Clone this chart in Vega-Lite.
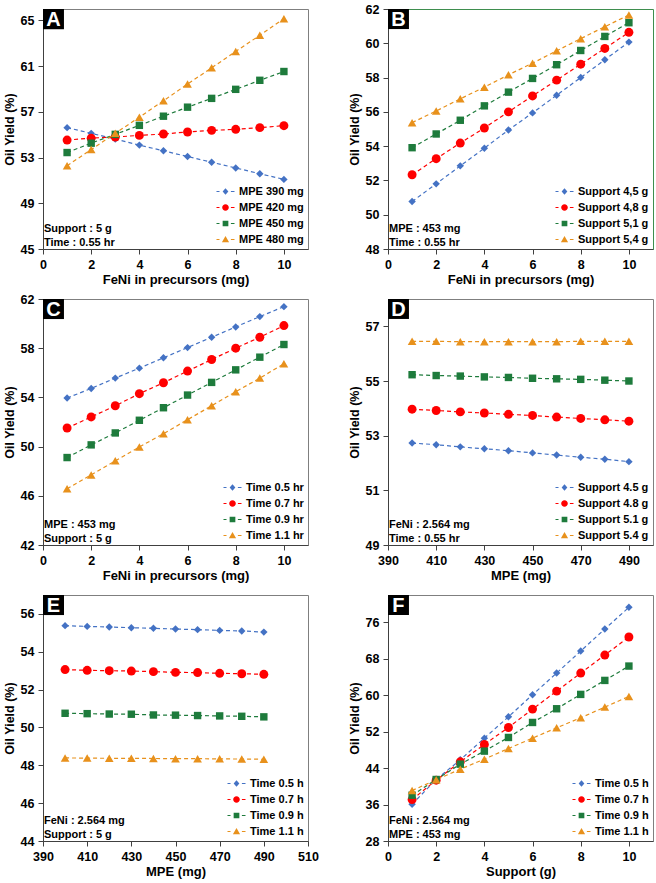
{
"$schema": "https://vega.github.io/schema/vega-lite/v6.json",
"padding": {"left": 2, "top": 2, "right": 2, "bottom": 1},
"datasets": {
"A": [
{"x":1,"y":55.62,"s":"MPE 390 mg"},{"x":2,"y":55.12,"s":"MPE 390 mg"},{"x":3,"y":54.62,"s":"MPE 390 mg"},{"x":4,"y":54.09,"s":"MPE 390 mg"},{"x":5,"y":53.59,"s":"MPE 390 mg"},{"x":6,"y":53.09,"s":"MPE 390 mg"},{"x":7,"y":52.59,"s":"MPE 390 mg"},{"x":8,"y":52.09,"s":"MPE 390 mg"},{"x":9,"y":51.59,"s":"MPE 390 mg"},{"x":10,"y":51.09,"s":"MPE 390 mg"},
{"x":1,"y":54.53,"s":"MPE 420 mg"},{"x":2,"y":54.70,"s":"MPE 420 mg"},{"x":3,"y":54.80,"s":"MPE 420 mg"},{"x":4,"y":54.94,"s":"MPE 420 mg"},{"x":5,"y":55.06,"s":"MPE 420 mg"},{"x":6,"y":55.24,"s":"MPE 420 mg"},{"x":7,"y":55.38,"s":"MPE 420 mg"},{"x":8,"y":55.47,"s":"MPE 420 mg"},{"x":9,"y":55.62,"s":"MPE 420 mg"},{"x":10,"y":55.79,"s":"MPE 420 mg"},
{"x":1,"y":53.44,"s":"MPE 450 mg"},{"x":2,"y":54.26,"s":"MPE 450 mg"},{"x":3,"y":55.03,"s":"MPE 450 mg"},{"x":4,"y":55.82,"s":"MPE 450 mg"},{"x":5,"y":56.62,"s":"MPE 450 mg"},{"x":6,"y":57.41,"s":"MPE 450 mg"},{"x":7,"y":58.18,"s":"MPE 450 mg"},{"x":8,"y":58.97,"s":"MPE 450 mg"},{"x":9,"y":59.76,"s":"MPE 450 mg"},{"x":10,"y":60.53,"s":"MPE 450 mg"},
{"x":1,"y":52.29,"s":"MPE 480 mg"},{"x":2,"y":53.70,"s":"MPE 480 mg"},{"x":3,"y":55.12,"s":"MPE 480 mg"},{"x":4,"y":56.53,"s":"MPE 480 mg"},{"x":5,"y":57.97,"s":"MPE 480 mg"},{"x":6,"y":59.44,"s":"MPE 480 mg"},{"x":7,"y":60.85,"s":"MPE 480 mg"},{"x":8,"y":62.29,"s":"MPE 480 mg"},{"x":9,"y":63.70,"s":"MPE 480 mg"},{"x":10,"y":65.15,"s":"MPE 480 mg"}
],
"B": [
{"x":1,"y":50.77,"s":"Support 4,5 g"},{"x":2,"y":51.80,"s":"Support 4,5 g"},{"x":3,"y":52.85,"s":"Support 4,5 g"},{"x":4,"y":53.88,"s":"Support 4,5 g"},{"x":5,"y":54.94,"s":"Support 4,5 g"},{"x":6,"y":55.94,"s":"Support 4,5 g"},{"x":7,"y":56.97,"s":"Support 4,5 g"},{"x":8,"y":58.00,"s":"Support 4,5 g"},{"x":9,"y":59.04,"s":"Support 4,5 g"},{"x":10,"y":60.07,"s":"Support 4,5 g"},
{"x":1,"y":52.33,"s":"Support 4,8 g"},{"x":2,"y":53.27,"s":"Support 4,8 g"},{"x":3,"y":54.18,"s":"Support 4,8 g"},{"x":4,"y":55.06,"s":"Support 4,8 g"},{"x":5,"y":56.00,"s":"Support 4,8 g"},{"x":6,"y":56.93,"s":"Support 4,8 g"},{"x":7,"y":57.85,"s":"Support 4,8 g"},{"x":8,"y":58.78,"s":"Support 4,8 g"},{"x":9,"y":59.70,"s":"Support 4,8 g"},{"x":10,"y":60.64,"s":"Support 4,8 g"},
{"x":1,"y":53.91,"s":"Support 5,1 g"},{"x":2,"y":54.71,"s":"Support 5,1 g"},{"x":3,"y":55.51,"s":"Support 5,1 g"},{"x":4,"y":56.35,"s":"Support 5,1 g"},{"x":5,"y":57.15,"s":"Support 5,1 g"},{"x":6,"y":57.95,"s":"Support 5,1 g"},{"x":7,"y":58.75,"s":"Support 5,1 g"},{"x":8,"y":59.58,"s":"Support 5,1 g"},{"x":9,"y":60.40,"s":"Support 5,1 g"},{"x":10,"y":61.20,"s":"Support 5,1 g"},
{"x":1,"y":55.37,"s":"Support 5,4 g"},{"x":2,"y":56.05,"s":"Support 5,4 g"},{"x":3,"y":56.76,"s":"Support 5,4 g"},{"x":4,"y":57.44,"s":"Support 5,4 g"},{"x":5,"y":58.16,"s":"Support 5,4 g"},{"x":6,"y":58.84,"s":"Support 5,4 g"},{"x":7,"y":59.56,"s":"Support 5,4 g"},{"x":8,"y":60.27,"s":"Support 5,4 g"},{"x":9,"y":60.97,"s":"Support 5,4 g"},{"x":10,"y":61.65,"s":"Support 5,4 g"}
],
"C": [
{"x":1,"y":53.95,"s":"Time 0.5 hr"},{"x":2,"y":54.73,"s":"Time 0.5 hr"},{"x":3,"y":55.57,"s":"Time 0.5 hr"},{"x":4,"y":56.38,"s":"Time 0.5 hr"},{"x":5,"y":57.22,"s":"Time 0.5 hr"},{"x":6,"y":58.05,"s":"Time 0.5 hr"},{"x":7,"y":58.89,"s":"Time 0.5 hr"},{"x":8,"y":59.73,"s":"Time 0.5 hr"},{"x":9,"y":60.57,"s":"Time 0.5 hr"},{"x":10,"y":61.38,"s":"Time 0.5 hr"},
{"x":1,"y":51.51,"s":"Time 0.7 hr"},{"x":2,"y":52.41,"s":"Time 0.7 hr"},{"x":3,"y":53.32,"s":"Time 0.7 hr"},{"x":4,"y":54.30,"s":"Time 0.7 hr"},{"x":5,"y":55.19,"s":"Time 0.7 hr"},{"x":6,"y":56.14,"s":"Time 0.7 hr"},{"x":7,"y":57.08,"s":"Time 0.7 hr"},{"x":8,"y":58.00,"s":"Time 0.7 hr"},{"x":9,"y":58.89,"s":"Time 0.7 hr"},{"x":10,"y":59.84,"s":"Time 0.7 hr"},
{"x":1,"y":49.11,"s":"Time 0.9 hr"},{"x":2,"y":50.14,"s":"Time 0.9 hr"},{"x":3,"y":51.11,"s":"Time 0.9 hr"},{"x":4,"y":52.14,"s":"Time 0.9 hr"},{"x":5,"y":53.16,"s":"Time 0.9 hr"},{"x":6,"y":54.19,"s":"Time 0.9 hr"},{"x":7,"y":55.22,"s":"Time 0.9 hr"},{"x":8,"y":56.24,"s":"Time 0.9 hr"},{"x":9,"y":57.27,"s":"Time 0.9 hr"},{"x":10,"y":58.30,"s":"Time 0.9 hr"},
{"x":1,"y":46.57,"s":"Time 1.1 hr"},{"x":2,"y":47.70,"s":"Time 1.1 hr"},{"x":3,"y":48.84,"s":"Time 1.1 hr"},{"x":4,"y":49.97,"s":"Time 1.1 hr"},{"x":5,"y":51.05,"s":"Time 1.1 hr"},{"x":6,"y":52.19,"s":"Time 1.1 hr"},{"x":7,"y":53.32,"s":"Time 1.1 hr"},{"x":8,"y":54.46,"s":"Time 1.1 hr"},{"x":9,"y":55.57,"s":"Time 1.1 hr"},{"x":10,"y":56.73,"s":"Time 1.1 hr"}
],
"D": [
{"x":400,"y":52.73,"s":"Support 4.5 g"},{"x":410,"y":52.67,"s":"Support 4.5 g"},{"x":420,"y":52.59,"s":"Support 4.5 g"},{"x":430,"y":52.52,"s":"Support 4.5 g"},{"x":440,"y":52.45,"s":"Support 4.5 g"},{"x":450,"y":52.37,"s":"Support 4.5 g"},{"x":460,"y":52.29,"s":"Support 4.5 g"},{"x":470,"y":52.21,"s":"Support 4.5 g"},{"x":480,"y":52.14,"s":"Support 4.5 g"},{"x":490,"y":52.05,"s":"Support 4.5 g"},
{"x":400,"y":53.97,"s":"Support 4.8 g"},{"x":410,"y":53.92,"s":"Support 4.8 g"},{"x":420,"y":53.87,"s":"Support 4.8 g"},{"x":430,"y":53.83,"s":"Support 4.8 g"},{"x":440,"y":53.78,"s":"Support 4.8 g"},{"x":450,"y":53.74,"s":"Support 4.8 g"},{"x":460,"y":53.68,"s":"Support 4.8 g"},{"x":470,"y":53.63,"s":"Support 4.8 g"},{"x":480,"y":53.58,"s":"Support 4.8 g"},{"x":490,"y":53.53,"s":"Support 4.8 g"},
{"x":400,"y":55.23,"s":"Support 5.1 g"},{"x":410,"y":55.20,"s":"Support 5.1 g"},{"x":420,"y":55.18,"s":"Support 5.1 g"},{"x":430,"y":55.15,"s":"Support 5.1 g"},{"x":440,"y":55.13,"s":"Support 5.1 g"},{"x":450,"y":55.10,"s":"Support 5.1 g"},{"x":460,"y":55.08,"s":"Support 5.1 g"},{"x":470,"y":55.06,"s":"Support 5.1 g"},{"x":480,"y":55.03,"s":"Support 5.1 g"},{"x":490,"y":55.00,"s":"Support 5.1 g"},
{"x":400,"y":56.45,"s":"Support 5.4 g"},{"x":410,"y":56.45,"s":"Support 5.4 g"},{"x":420,"y":56.44,"s":"Support 5.4 g"},{"x":430,"y":56.44,"s":"Support 5.4 g"},{"x":440,"y":56.44,"s":"Support 5.4 g"},{"x":450,"y":56.44,"s":"Support 5.4 g"},{"x":460,"y":56.44,"s":"Support 5.4 g"},{"x":470,"y":56.45,"s":"Support 5.4 g"},{"x":480,"y":56.45,"s":"Support 5.4 g"},{"x":490,"y":56.45,"s":"Support 5.4 g"}
],
"E": [
{"x":400,"y":55.38,"s":"Time 0.5 h"},{"x":410,"y":55.34,"s":"Time 0.5 h"},{"x":420,"y":55.31,"s":"Time 0.5 h"},{"x":430,"y":55.27,"s":"Time 0.5 h"},{"x":440,"y":55.24,"s":"Time 0.5 h"},{"x":450,"y":55.20,"s":"Time 0.5 h"},{"x":460,"y":55.17,"s":"Time 0.5 h"},{"x":470,"y":55.13,"s":"Time 0.5 h"},{"x":480,"y":55.10,"s":"Time 0.5 h"},{"x":490,"y":55.04,"s":"Time 0.5 h"},
{"x":400,"y":53.06,"s":"Time 0.7 h"},{"x":410,"y":53.02,"s":"Time 0.7 h"},{"x":420,"y":53.00,"s":"Time 0.7 h"},{"x":430,"y":52.98,"s":"Time 0.7 h"},{"x":440,"y":52.95,"s":"Time 0.7 h"},{"x":450,"y":52.91,"s":"Time 0.7 h"},{"x":460,"y":52.90,"s":"Time 0.7 h"},{"x":470,"y":52.86,"s":"Time 0.7 h"},{"x":480,"y":52.84,"s":"Time 0.7 h"},{"x":490,"y":52.81,"s":"Time 0.7 h"},
{"x":400,"y":50.75,"s":"Time 0.9 h"},{"x":410,"y":50.73,"s":"Time 0.9 h"},{"x":420,"y":50.71,"s":"Time 0.9 h"},{"x":430,"y":50.70,"s":"Time 0.9 h"},{"x":440,"y":50.66,"s":"Time 0.9 h"},{"x":450,"y":50.65,"s":"Time 0.9 h"},{"x":460,"y":50.63,"s":"Time 0.9 h"},{"x":470,"y":50.61,"s":"Time 0.9 h"},{"x":480,"y":50.59,"s":"Time 0.9 h"},{"x":490,"y":50.56,"s":"Time 0.9 h"},
{"x":400,"y":48.39,"s":"Time 1.1 h"},{"x":410,"y":48.38,"s":"Time 1.1 h"},{"x":420,"y":48.37,"s":"Time 1.1 h"},{"x":430,"y":48.37,"s":"Time 1.1 h"},{"x":440,"y":48.36,"s":"Time 1.1 h"},{"x":450,"y":48.35,"s":"Time 1.1 h"},{"x":460,"y":48.35,"s":"Time 1.1 h"},{"x":470,"y":48.34,"s":"Time 1.1 h"},{"x":480,"y":48.33,"s":"Time 1.1 h"},{"x":490,"y":48.32,"s":"Time 1.1 h"}
],
"F": [
{"x":1,"y":36.07,"s":"Time 0.5 h"},{"x":2,"y":41.50,"s":"Time 0.5 h"},{"x":3,"y":45.82,"s":"Time 0.5 h"},{"x":4,"y":50.58,"s":"Time 0.5 h"},{"x":5,"y":55.27,"s":"Time 0.5 h"},{"x":6,"y":60.10,"s":"Time 0.5 h"},{"x":7,"y":64.86,"s":"Time 0.5 h"},{"x":8,"y":69.70,"s":"Time 0.5 h"},{"x":9,"y":74.53,"s":"Time 0.5 h"},{"x":10,"y":79.30,"s":"Time 0.5 h"},
{"x":1,"y":37.10,"s":"Time 0.7 h"},{"x":2,"y":41.35,"s":"Time 0.7 h"},{"x":3,"y":45.38,"s":"Time 0.7 h"},{"x":4,"y":49.19,"s":"Time 0.7 h"},{"x":5,"y":52.92,"s":"Time 0.7 h"},{"x":6,"y":56.95,"s":"Time 0.7 h"},{"x":7,"y":60.90,"s":"Time 0.7 h"},{"x":8,"y":64.86,"s":"Time 0.7 h"},{"x":9,"y":68.82,"s":"Time 0.7 h"},{"x":10,"y":72.78,"s":"Time 0.7 h"},
{"x":1,"y":38.05,"s":"Time 0.9 h"},{"x":2,"y":41.50,"s":"Time 0.9 h"},{"x":3,"y":44.87,"s":"Time 0.9 h"},{"x":4,"y":47.73,"s":"Time 0.9 h"},{"x":5,"y":50.73,"s":"Time 0.9 h"},{"x":6,"y":54.02,"s":"Time 0.9 h"},{"x":7,"y":57.03,"s":"Time 0.9 h"},{"x":8,"y":60.18,"s":"Time 0.9 h"},{"x":9,"y":63.25,"s":"Time 0.9 h"},{"x":10,"y":66.40,"s":"Time 0.9 h"},
{"x":1,"y":39.08,"s":"Time 1.1 h"},{"x":2,"y":41.43,"s":"Time 1.1 h"},{"x":3,"y":43.77,"s":"Time 1.1 h"},{"x":4,"y":45.97,"s":"Time 1.1 h"},{"x":5,"y":48.30,"s":"Time 1.1 h"},{"x":6,"y":50.58,"s":"Time 1.1 h"},{"x":7,"y":52.85,"s":"Time 1.1 h"},{"x":8,"y":55.05,"s":"Time 1.1 h"},{"x":9,"y":57.39,"s":"Time 1.1 h"},{"x":10,"y":59.74,"s":"Time 1.1 h"}
]
},
"columns": 2,
"spacing": {"row": 50, "column": 80},
"bounds": "flush",
"align": "each",
"resolve": {"scale": {"color": "independent", "shape": "independent", "stroke": "independent"}, "legend": {"color": "independent", "shape": "independent", "stroke": "independent"}},
"concat": [
{
"width": 265, "height": 240,
"data": {"name": "A"},
"layer": [
{"mark": {"type": "line", "strokeDash": [4, 3], "strokeWidth": 1.2},
 "encoding": {
  "x": {"field": "x", "type": "quantitative", "scale": {"domain": [0, 11], "nice": false, "zero": false}, "axis": {"values": [0, 2, 4, 6, 8, 10], "title": "FeNi in precursors (mg)"}},
  "y": {"field": "y", "type": "quantitative", "scale": {"domain": [45, 66], "nice": false, "zero": false}, "axis": {"values": [45, 49, 53, 57, 61, 65], "title": "Oil Yield (%)"}},
  "stroke": {"field": "s", "type": "nominal", "scale": {"range": ["#4472C4", "#FF0000", "#1E7B3C", "#E8911C"]}, "legend": null}}},
{"transform": [{"filter": "datum.s === 'MPE 390 mg'"}], "mark": {"type": "point", "shape": "diamond", "filled": true, "color": "#4472C4", "size": 55, "opacity": 1}, "encoding": {"x": {"field": "x", "type": "quantitative"}, "y": {"field": "y", "type": "quantitative"}}},
{"transform": [{"filter": "datum.s === 'MPE 420 mg'"}], "mark": {"type": "point", "shape": "circle", "filled": true, "color": "#FF0000", "size": 80, "opacity": 1}, "encoding": {"x": {"field": "x", "type": "quantitative"}, "y": {"field": "y", "type": "quantitative"}}},
{"transform": [{"filter": "datum.s === 'MPE 450 mg'"}], "mark": {"type": "point", "shape": "square", "filled": true, "color": "#1E7B3C", "size": 55, "opacity": 1}, "encoding": {"x": {"field": "x", "type": "quantitative"}, "y": {"field": "y", "type": "quantitative"}}},
{"transform": [{"filter": "datum.s === 'MPE 480 mg'"}], "mark": {"type": "point", "shape": "triangle-up", "filled": true, "color": "#E8911C", "size": 75, "opacity": 1}, "encoding": {"x": {"field": "x", "type": "quantitative"}, "y": {"field": "y", "type": "quantitative"}}},
{"mark": {"type": "point", "filled": true, "opacity": 0},
 "encoding": {
  "x": {"field": "x", "type": "quantitative"}, "y": {"field": "y", "type": "quantitative"},
  "color": {"field": "s", "type": "nominal", "scale": {"domain": ["MPE 390 mg", "MPE 420 mg", "MPE 450 mg", "MPE 480 mg"], "range": ["#4472C4", "#FF0000", "#1E7B3C", "#E8911C"]}, "legend": {"title": null}},
  "shape": {"field": "s", "type": "nominal", "scale": {"domain": ["MPE 390 mg", "MPE 420 mg", "MPE 450 mg", "MPE 480 mg"], "range": ["M-3,-0.2H-2V0.2H-3Z M1.8,-0.2H3V0.2H1.8Z M0,-1.1L0.95,0L0,1.1L-0.95,0Z", "M-3,-0.2H-2V0.2H-3Z M1.8,-0.2H3V0.2H1.8Z M-1.1,0A1.1,1.1 0 1,1 1.1,0A1.1,1.1 0 1,1 -1.1,0Z", "M-3,-0.2H-2V0.2H-3Z M1.8,-0.2H3V0.2H1.8Z M-0.95,-0.95H0.95V0.95H-0.95Z", "M-3,-0.2H-2V0.2H-3Z M1.8,-0.2H3V0.2H1.8Z M0,-1.15L1.2,0.95H-1.2Z"]}, "legend": {"title": null}}}},
{"data": {"values": [{}]}, "mark": {"type": "rect", "color": "#000"}, "encoding": {"x": {"datum": 0}, "x2": {"datum": 0.87}, "y": {"datum": 66}, "y2": {"datum": 64.23}}},
{"data": {"values": [{}]}, "mark": {"type": "text", "text": "A", "color": "#fff", "fontSize": 20, "fontWeight": "bold", "align": "center", "baseline": "middle", "dy": 1}, "encoding": {"x": {"datum": 0.435}, "y": {"datum": 65.12}}},
{"data": {"values": [{}]}, "mark": {"type": "text", "text": ["Support : 5 g", "Time : 0.55 hr"], "align": "left", "baseline": "bottom", "dx": 1, "dy": -15, "fontSize": 11, "fontWeight": "bold", "lineHeight": 14}, "encoding": {"x": {"datum": 0}, "y": {"datum": 45}}}
]
},
{
"width": 265, "height": 240,
"view": {"stroke": "#3E8E4E"},
"data": {"name": "B"},
"layer": [
{"mark": {"type": "line", "strokeDash": [4, 3], "strokeWidth": 1.2},
 "encoding": {
  "x": {"field": "x", "type": "quantitative", "scale": {"domain": [0, 11], "nice": false, "zero": false}, "axis": {"values": [0, 2, 4, 6, 8, 10], "title": "FeNi in precursors (mg)"}},
  "y": {"field": "y", "type": "quantitative", "scale": {"domain": [48, 62], "nice": false, "zero": false}, "axis": {"values": [48, 50, 52, 54, 56, 58, 60, 62], "tickCount": 20, "format": "d", "title": "Oil Yield (%)"}},
  "stroke": {"field": "s", "type": "nominal", "scale": {"range": ["#4472C4", "#FF0000", "#1E7B3C", "#E8911C"]}, "legend": null}}},
{"transform": [{"filter": "datum.s === 'Support 4,5 g'"}], "mark": {"type": "point", "shape": "diamond", "filled": true, "color": "#4472C4", "size": 55, "opacity": 1}, "encoding": {"x": {"field": "x", "type": "quantitative"}, "y": {"field": "y", "type": "quantitative"}}},
{"transform": [{"filter": "datum.s === 'Support 4,8 g'"}], "mark": {"type": "point", "shape": "circle", "filled": true, "color": "#FF0000", "size": 80, "opacity": 1}, "encoding": {"x": {"field": "x", "type": "quantitative"}, "y": {"field": "y", "type": "quantitative"}}},
{"transform": [{"filter": "datum.s === 'Support 5,1 g'"}], "mark": {"type": "point", "shape": "square", "filled": true, "color": "#1E7B3C", "size": 55, "opacity": 1}, "encoding": {"x": {"field": "x", "type": "quantitative"}, "y": {"field": "y", "type": "quantitative"}}},
{"transform": [{"filter": "datum.s === 'Support 5,4 g'"}], "mark": {"type": "point", "shape": "triangle-up", "filled": true, "color": "#E8911C", "size": 75, "opacity": 1}, "encoding": {"x": {"field": "x", "type": "quantitative"}, "y": {"field": "y", "type": "quantitative"}}},
{"mark": {"type": "point", "filled": true, "opacity": 0},
 "encoding": {
  "x": {"field": "x", "type": "quantitative"}, "y": {"field": "y", "type": "quantitative"},
  "color": {"field": "s", "type": "nominal", "scale": {"domain": ["Support 4,5 g", "Support 4,8 g", "Support 5,1 g", "Support 5,4 g"], "range": ["#4472C4", "#FF0000", "#1E7B3C", "#E8911C"]}, "legend": {"title": null}},
  "shape": {"field": "s", "type": "nominal", "scale": {"domain": ["Support 4,5 g", "Support 4,8 g", "Support 5,1 g", "Support 5,4 g"], "range": ["M-3,-0.2H-2V0.2H-3Z M1.8,-0.2H3V0.2H1.8Z M0,-1.1L0.95,0L0,1.1L-0.95,0Z", "M-3,-0.2H-2V0.2H-3Z M1.8,-0.2H3V0.2H1.8Z M-1.1,0A1.1,1.1 0 1,1 1.1,0A1.1,1.1 0 1,1 -1.1,0Z", "M-3,-0.2H-2V0.2H-3Z M1.8,-0.2H3V0.2H1.8Z M-0.95,-0.95H0.95V0.95H-0.95Z", "M-3,-0.2H-2V0.2H-3Z M1.8,-0.2H3V0.2H1.8Z M0,-1.15L1.2,0.95H-1.2Z"]}, "legend": {"title": null}}}},
{"data": {"values": [{}]}, "mark": {"type": "rect", "color": "#000"}, "encoding": {"x": {"datum": 0}, "x2": {"datum": 0.87}, "y": {"datum": 62}, "y2": {"datum": 60.83}}},
{"data": {"values": [{}]}, "mark": {"type": "text", "text": "B", "color": "#fff", "fontSize": 20, "fontWeight": "bold", "align": "center", "baseline": "middle", "dy": 1}, "encoding": {"x": {"datum": 0.435}, "y": {"datum": 61.42}}},
{"data": {"values": [{}]}, "mark": {"type": "text", "text": ["MPE : 453 mg", "Time : 0.55 hr"], "align": "left", "baseline": "bottom", "dx": 1, "dy": -15, "fontSize": 11, "fontWeight": "bold", "lineHeight": 14}, "encoding": {"x": {"datum": 0}, "y": {"datum": 48}}}
]
},
{
"width": 265, "height": 246,
"data": {"name": "C"},
"layer": [
{"mark": {"type": "line", "strokeDash": [4, 3], "strokeWidth": 1.2},
 "encoding": {
  "x": {"field": "x", "type": "quantitative", "scale": {"domain": [0, 11], "nice": false, "zero": false}, "axis": {"values": [0, 2, 4, 6, 8, 10], "title": "FeNi in precursors (mg)"}},
  "y": {"field": "y", "type": "quantitative", "scale": {"domain": [42, 62], "nice": false, "zero": false}, "axis": {"values": [42, 46, 50, 54, 58, 62], "title": "Oil Yield (%)"}},
  "stroke": {"field": "s", "type": "nominal", "scale": {"range": ["#4472C4", "#FF0000", "#1E7B3C", "#E8911C"]}, "legend": null}}},
{"transform": [{"filter": "datum.s === 'Time 0.5 hr'"}], "mark": {"type": "point", "shape": "diamond", "filled": true, "color": "#4472C4", "size": 55, "opacity": 1}, "encoding": {"x": {"field": "x", "type": "quantitative"}, "y": {"field": "y", "type": "quantitative"}}},
{"transform": [{"filter": "datum.s === 'Time 0.7 hr'"}], "mark": {"type": "point", "shape": "circle", "filled": true, "color": "#FF0000", "size": 80, "opacity": 1}, "encoding": {"x": {"field": "x", "type": "quantitative"}, "y": {"field": "y", "type": "quantitative"}}},
{"transform": [{"filter": "datum.s === 'Time 0.9 hr'"}], "mark": {"type": "point", "shape": "square", "filled": true, "color": "#1E7B3C", "size": 55, "opacity": 1}, "encoding": {"x": {"field": "x", "type": "quantitative"}, "y": {"field": "y", "type": "quantitative"}}},
{"transform": [{"filter": "datum.s === 'Time 1.1 hr'"}], "mark": {"type": "point", "shape": "triangle-up", "filled": true, "color": "#E8911C", "size": 75, "opacity": 1}, "encoding": {"x": {"field": "x", "type": "quantitative"}, "y": {"field": "y", "type": "quantitative"}}},
{"mark": {"type": "point", "filled": true, "opacity": 0},
 "encoding": {
  "x": {"field": "x", "type": "quantitative"}, "y": {"field": "y", "type": "quantitative"},
  "color": {"field": "s", "type": "nominal", "scale": {"domain": ["Time 0.5 hr", "Time 0.7 hr", "Time 0.9 hr", "Time 1.1 hr"], "range": ["#4472C4", "#FF0000", "#1E7B3C", "#E8911C"]}, "legend": {"title": null}},
  "shape": {"field": "s", "type": "nominal", "scale": {"domain": ["Time 0.5 hr", "Time 0.7 hr", "Time 0.9 hr", "Time 1.1 hr"], "range": ["M-3,-0.2H-2V0.2H-3Z M1.8,-0.2H3V0.2H1.8Z M0,-1.1L0.95,0L0,1.1L-0.95,0Z", "M-3,-0.2H-2V0.2H-3Z M1.8,-0.2H3V0.2H1.8Z M-1.1,0A1.1,1.1 0 1,1 1.1,0A1.1,1.1 0 1,1 -1.1,0Z", "M-3,-0.2H-2V0.2H-3Z M1.8,-0.2H3V0.2H1.8Z M-0.95,-0.95H0.95V0.95H-0.95Z", "M-3,-0.2H-2V0.2H-3Z M1.8,-0.2H3V0.2H1.8Z M0,-1.15L1.2,0.95H-1.2Z"]}, "legend": {"title": null}}}},
{"data": {"values": [{}]}, "mark": {"type": "rect", "color": "#000"}, "encoding": {"x": {"datum": 0}, "x2": {"datum": 0.87}, "y": {"datum": 62}, "y2": {"datum": 60.37}}},
{"data": {"values": [{}]}, "mark": {"type": "text", "text": "C", "color": "#fff", "fontSize": 20, "fontWeight": "bold", "align": "center", "baseline": "middle", "dy": 1}, "encoding": {"x": {"datum": 0.435}, "y": {"datum": 61.19}}},
{"data": {"values": [{}]}, "mark": {"type": "text", "text": ["MPE : 453 mg", "Support : 5 g"], "align": "left", "baseline": "bottom", "dx": 1, "dy": -15, "fontSize": 11, "fontWeight": "bold", "lineHeight": 14}, "encoding": {"x": {"datum": 0}, "y": {"datum": 42}}}
]
},
{
"width": 265, "height": 246,
"data": {"name": "D"},
"layer": [
{"mark": {"type": "line", "strokeDash": [4, 3], "strokeWidth": 1.2},
 "encoding": {
  "x": {"field": "x", "type": "quantitative", "scale": {"domain": [390, 500], "nice": false, "zero": false}, "axis": {"values": [390, 410, 430, 450, 470, 490], "title": "MPE (mg)"}},
  "y": {"field": "y", "type": "quantitative", "scale": {"domain": [49, 58], "nice": false, "zero": false}, "axis": {"values": [49, 51, 53, 55, 57], "title": "Oil Yield (%)"}},
  "stroke": {"field": "s", "type": "nominal", "scale": {"range": ["#4472C4", "#FF0000", "#1E7B3C", "#E8911C"]}, "legend": null}}},
{"transform": [{"filter": "datum.s === 'Support 4.5 g'"}], "mark": {"type": "point", "shape": "diamond", "filled": true, "color": "#4472C4", "size": 55, "opacity": 1}, "encoding": {"x": {"field": "x", "type": "quantitative"}, "y": {"field": "y", "type": "quantitative"}}},
{"transform": [{"filter": "datum.s === 'Support 4.8 g'"}], "mark": {"type": "point", "shape": "circle", "filled": true, "color": "#FF0000", "size": 80, "opacity": 1}, "encoding": {"x": {"field": "x", "type": "quantitative"}, "y": {"field": "y", "type": "quantitative"}}},
{"transform": [{"filter": "datum.s === 'Support 5.1 g'"}], "mark": {"type": "point", "shape": "square", "filled": true, "color": "#1E7B3C", "size": 55, "opacity": 1}, "encoding": {"x": {"field": "x", "type": "quantitative"}, "y": {"field": "y", "type": "quantitative"}}},
{"transform": [{"filter": "datum.s === 'Support 5.4 g'"}], "mark": {"type": "point", "shape": "triangle-up", "filled": true, "color": "#E8911C", "size": 75, "opacity": 1}, "encoding": {"x": {"field": "x", "type": "quantitative"}, "y": {"field": "y", "type": "quantitative"}}},
{"mark": {"type": "point", "filled": true, "opacity": 0},
 "encoding": {
  "x": {"field": "x", "type": "quantitative"}, "y": {"field": "y", "type": "quantitative"},
  "color": {"field": "s", "type": "nominal", "scale": {"domain": ["Support 4.5 g", "Support 4.8 g", "Support 5.1 g", "Support 5.4 g"], "range": ["#4472C4", "#FF0000", "#1E7B3C", "#E8911C"]}, "legend": {"title": null}},
  "shape": {"field": "s", "type": "nominal", "scale": {"domain": ["Support 4.5 g", "Support 4.8 g", "Support 5.1 g", "Support 5.4 g"], "range": ["M-3,-0.2H-2V0.2H-3Z M1.8,-0.2H3V0.2H1.8Z M0,-1.1L0.95,0L0,1.1L-0.95,0Z", "M-3,-0.2H-2V0.2H-3Z M1.8,-0.2H3V0.2H1.8Z M-1.1,0A1.1,1.1 0 1,1 1.1,0A1.1,1.1 0 1,1 -1.1,0Z", "M-3,-0.2H-2V0.2H-3Z M1.8,-0.2H3V0.2H1.8Z M-0.95,-0.95H0.95V0.95H-0.95Z", "M-3,-0.2H-2V0.2H-3Z M1.8,-0.2H3V0.2H1.8Z M0,-1.15L1.2,0.95H-1.2Z"]}, "legend": {"title": null}}}},
{"data": {"values": [{}]}, "mark": {"type": "rect", "color": "#000"}, "encoding": {"x": {"datum": 390}, "x2": {"datum": 398.7}, "y": {"datum": 58}, "y2": {"datum": 57.27}}},
{"data": {"values": [{}]}, "mark": {"type": "text", "text": "D", "color": "#fff", "fontSize": 20, "fontWeight": "bold", "align": "center", "baseline": "middle", "dy": 1}, "encoding": {"x": {"datum": 394.35}, "y": {"datum": 57.64}}},
{"data": {"values": [{}]}, "mark": {"type": "text", "text": ["FeNi : 2.564 mg", "Time : 0.55 hr"], "align": "left", "baseline": "bottom", "dx": 1, "dy": -15, "fontSize": 11, "fontWeight": "bold", "lineHeight": 14}, "encoding": {"x": {"datum": 390}, "y": {"datum": 49}}}
]
},
{
"width": 265, "height": 246,
"data": {"name": "E"},
"layer": [
{"mark": {"type": "line", "strokeDash": [4, 3], "strokeWidth": 1.2},
 "encoding": {
  "x": {"field": "x", "type": "quantitative", "scale": {"domain": [390, 510], "nice": false, "zero": false}, "axis": {"values": [390, 410, 430, 450, 470, 490, 510], "title": "MPE (mg)"}},
  "y": {"field": "y", "type": "quantitative", "scale": {"domain": [44, 57], "nice": false, "zero": false}, "axis": {"values": [44, 46, 48, 50, 52, 54, 56], "title": "Oil Yield (%)"}},
  "stroke": {"field": "s", "type": "nominal", "scale": {"range": ["#4472C4", "#FF0000", "#1E7B3C", "#E8911C"]}, "legend": null}}},
{"transform": [{"filter": "datum.s === 'Time 0.5 h'"}], "mark": {"type": "point", "shape": "diamond", "filled": true, "color": "#4472C4", "size": 55, "opacity": 1}, "encoding": {"x": {"field": "x", "type": "quantitative"}, "y": {"field": "y", "type": "quantitative"}}},
{"transform": [{"filter": "datum.s === 'Time 0.7 h'"}], "mark": {"type": "point", "shape": "circle", "filled": true, "color": "#FF0000", "size": 80, "opacity": 1}, "encoding": {"x": {"field": "x", "type": "quantitative"}, "y": {"field": "y", "type": "quantitative"}}},
{"transform": [{"filter": "datum.s === 'Time 0.9 h'"}], "mark": {"type": "point", "shape": "square", "filled": true, "color": "#1E7B3C", "size": 55, "opacity": 1}, "encoding": {"x": {"field": "x", "type": "quantitative"}, "y": {"field": "y", "type": "quantitative"}}},
{"transform": [{"filter": "datum.s === 'Time 1.1 h'"}], "mark": {"type": "point", "shape": "triangle-up", "filled": true, "color": "#E8911C", "size": 75, "opacity": 1}, "encoding": {"x": {"field": "x", "type": "quantitative"}, "y": {"field": "y", "type": "quantitative"}}},
{"mark": {"type": "point", "filled": true, "opacity": 0},
 "encoding": {
  "x": {"field": "x", "type": "quantitative"}, "y": {"field": "y", "type": "quantitative"},
  "color": {"field": "s", "type": "nominal", "scale": {"domain": ["Time 0.5 h", "Time 0.7 h", "Time 0.9 h", "Time 1.1 h"], "range": ["#4472C4", "#FF0000", "#1E7B3C", "#E8911C"]}, "legend": {"title": null}},
  "shape": {"field": "s", "type": "nominal", "scale": {"domain": ["Time 0.5 h", "Time 0.7 h", "Time 0.9 h", "Time 1.1 h"], "range": ["M-3,-0.2H-2V0.2H-3Z M1.8,-0.2H3V0.2H1.8Z M0,-1.1L0.95,0L0,1.1L-0.95,0Z", "M-3,-0.2H-2V0.2H-3Z M1.8,-0.2H3V0.2H1.8Z M-1.1,0A1.1,1.1 0 1,1 1.1,0A1.1,1.1 0 1,1 -1.1,0Z", "M-3,-0.2H-2V0.2H-3Z M1.8,-0.2H3V0.2H1.8Z M-0.95,-0.95H0.95V0.95H-0.95Z", "M-3,-0.2H-2V0.2H-3Z M1.8,-0.2H3V0.2H1.8Z M0,-1.15L1.2,0.95H-1.2Z"]}, "legend": {"title": null}}}},
{"data": {"values": [{}]}, "mark": {"type": "rect", "color": "#000"}, "encoding": {"x": {"datum": 390}, "x2": {"datum": 399.5}, "y": {"datum": 57}, "y2": {"datum": 55.94}}},
{"data": {"values": [{}]}, "mark": {"type": "text", "text": "E", "color": "#fff", "fontSize": 20, "fontWeight": "bold", "align": "center", "baseline": "middle", "dy": 1}, "encoding": {"x": {"datum": 394.75}, "y": {"datum": 56.47}}},
{"data": {"values": [{}]}, "mark": {"type": "text", "text": ["FeNi : 2.564 mg", "Support : 5 g"], "align": "left", "baseline": "bottom", "dx": 1, "dy": -15, "fontSize": 11, "fontWeight": "bold", "lineHeight": 14}, "encoding": {"x": {"datum": 390}, "y": {"datum": 44}}}
]
},
{
"width": 265, "height": 246,
"data": {"name": "F"},
"layer": [
{"mark": {"type": "line", "strokeDash": [4, 3], "strokeWidth": 1.2},
 "encoding": {
  "x": {"field": "x", "type": "quantitative", "scale": {"domain": [0, 11], "nice": false, "zero": false}, "axis": {"values": [0, 2, 4, 6, 8, 10], "title": "Support (g)"}},
  "y": {"field": "y", "type": "quantitative", "scale": {"domain": [28, 82], "nice": false, "zero": false}, "axis": {"values": [28, 36, 44, 52, 60, 68, 76], "title": "Oil Yield (%)"}},
  "stroke": {"field": "s", "type": "nominal", "scale": {"range": ["#4472C4", "#FF0000", "#1E7B3C", "#E8911C"]}, "legend": null}}},
{"transform": [{"filter": "datum.s === 'Time 0.5 h'"}], "mark": {"type": "point", "shape": "diamond", "filled": true, "color": "#4472C4", "size": 55, "opacity": 1}, "encoding": {"x": {"field": "x", "type": "quantitative"}, "y": {"field": "y", "type": "quantitative"}}},
{"transform": [{"filter": "datum.s === 'Time 0.7 h'"}], "mark": {"type": "point", "shape": "circle", "filled": true, "color": "#FF0000", "size": 80, "opacity": 1}, "encoding": {"x": {"field": "x", "type": "quantitative"}, "y": {"field": "y", "type": "quantitative"}}},
{"transform": [{"filter": "datum.s === 'Time 0.9 h'"}], "mark": {"type": "point", "shape": "square", "filled": true, "color": "#1E7B3C", "size": 55, "opacity": 1}, "encoding": {"x": {"field": "x", "type": "quantitative"}, "y": {"field": "y", "type": "quantitative"}}},
{"transform": [{"filter": "datum.s === 'Time 1.1 h'"}], "mark": {"type": "point", "shape": "triangle-up", "filled": true, "color": "#E8911C", "size": 75, "opacity": 1}, "encoding": {"x": {"field": "x", "type": "quantitative"}, "y": {"field": "y", "type": "quantitative"}}},
{"mark": {"type": "point", "filled": true, "opacity": 0},
 "encoding": {
  "x": {"field": "x", "type": "quantitative"}, "y": {"field": "y", "type": "quantitative"},
  "color": {"field": "s", "type": "nominal", "scale": {"domain": ["Time 0.5 h", "Time 0.7 h", "Time 0.9 h", "Time 1.1 h"], "range": ["#4472C4", "#FF0000", "#1E7B3C", "#E8911C"]}, "legend": {"title": null}},
  "shape": {"field": "s", "type": "nominal", "scale": {"domain": ["Time 0.5 h", "Time 0.7 h", "Time 0.9 h", "Time 1.1 h"], "range": ["M-3,-0.2H-2V0.2H-3Z M1.8,-0.2H3V0.2H1.8Z M0,-1.1L0.95,0L0,1.1L-0.95,0Z", "M-3,-0.2H-2V0.2H-3Z M1.8,-0.2H3V0.2H1.8Z M-1.1,0A1.1,1.1 0 1,1 1.1,0A1.1,1.1 0 1,1 -1.1,0Z", "M-3,-0.2H-2V0.2H-3Z M1.8,-0.2H3V0.2H1.8Z M-0.95,-0.95H0.95V0.95H-0.95Z", "M-3,-0.2H-2V0.2H-3Z M1.8,-0.2H3V0.2H1.8Z M0,-1.15L1.2,0.95H-1.2Z"]}, "legend": {"title": null}}}},
{"data": {"values": [{}]}, "mark": {"type": "rect", "color": "#000"}, "encoding": {"x": {"datum": 0}, "x2": {"datum": 0.87}, "y": {"datum": 82}, "y2": {"datum": 77.61}}},
{"data": {"values": [{}]}, "mark": {"type": "text", "text": "F", "color": "#fff", "fontSize": 20, "fontWeight": "bold", "align": "center", "baseline": "middle", "dy": 1}, "encoding": {"x": {"datum": 0.435}, "y": {"datum": 79.8}}},
{"data": {"values": [{}]}, "mark": {"type": "text", "text": ["FeNi : 2.564 mg", "MPE : 453 mg"], "align": "left", "baseline": "bottom", "dx": 1, "dy": -15, "fontSize": 11, "fontWeight": "bold", "lineHeight": 14}, "encoding": {"x": {"datum": 0}, "y": {"datum": 28}}}
]
}
],
"config": {
 "font": "Liberation Sans",
 "background": "#ffffff",
 "view": {"stroke": "#7f7f7f", "strokeWidth": 1},
 "axis": {"grid": false, "domainColor": "#404040", "tickColor": "#404040", "tickSize": 5, "labelPadding": 4, "labelFont": "Liberation Sans", "labelFontSize": 12.5, "labelFontWeight": "bold", "labelColor": "#000000", "labelFlush": false, "labelOverlap": false, "titleFont": "Liberation Sans", "titleFontWeight": "bold", "titleColor": "#000000", "titleFontSize": 13},
 "axisX": {"titlePadding": 3},
 "axisY": {"titlePadding": 4, "titleFontSize": 12.5},
 "legend": {"orient": "bottom-right", "offset": 4, "padding": 0, "symbolSize": 36, "symbolStrokeWidth": 0, "symbolOpacity": 1, "labelOffset": 8, "rowPadding": 4, "labelFont": "Liberation Sans", "labelFontSize": 11, "labelFontWeight": "bold", "labelColor": "#000000"},
 "text": {"font": "Liberation Sans", "color": "#000000"}
}
}
